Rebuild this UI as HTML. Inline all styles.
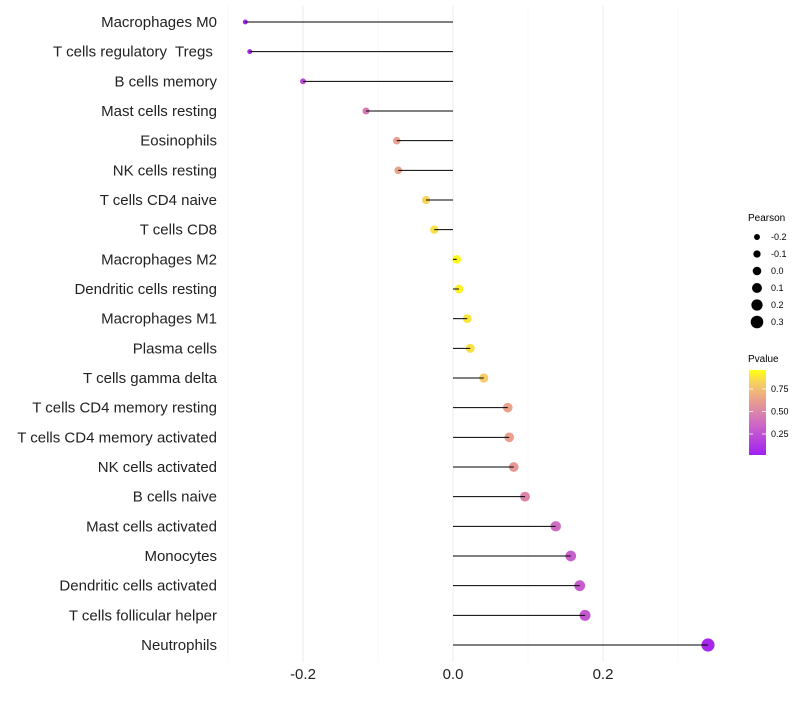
<!DOCTYPE html>
<html><head><meta charset="utf-8"><style>
body{margin:0;background:#fff;font-family:"Liberation Sans",sans-serif}
text{white-space:pre}
</style></head><body>
<svg id="c" width="800" height="700" xmlns="http://www.w3.org/2000/svg">
<defs><linearGradient id="pg" x1="0" y1="1" x2="0" y2="0">
<stop offset="0" stop-color="#a020f0"/><stop offset="0.35" stop-color="#cc66c8"/><stop offset="0.65" stop-color="#eaa08c"/><stop offset="0.85" stop-color="#f6d060"/><stop offset="1" stop-color="#ffff10"/></linearGradient></defs>
<g id="grid"></g><g id="dots"></g><g id="marks"></g><g id="labels"></g>
<g font-size="9" fill="#000">
<text x="748" y="221" font-size="10">Pearson</text>
<g id="sizeleg"></g>
</g>
<g font-size="9">
<text x="748" y="362" font-size="10">Pvalue</text>
<rect x="749" y="370" width="17" height="85" fill="url(#pg)"/>
<g id="cbt"></g>
</g>
</svg>
<script>
const categories=["Macrophages M0","T cells regulatory  Tregs ","B cells memory","Mast cells resting","Eosinophils","NK cells resting","T cells CD4 naive","T cells CD8","Macrophages M2","Dendritic cells resting","Macrophages M1","Plasma cells","T cells gamma delta","T cells CD4 memory resting","T cells CD4 memory activated","NK cells activated","B cells naive","Mast cells activated","Monocytes","Dendritic cells activated","T cells follicular helper","Neutrophils"];
const pearson=[-0.277,-0.271,-0.2,-0.116,-0.075,-0.073,-0.036,-0.025,0.005,0.008,0.019,0.023,0.041,0.073,0.075,0.081,0.096,0.137,0.157,0.169,0.176,0.34];
const pvalues=[0.03,0.04,0.2,0.45,0.65,0.66,0.86,0.9,0.98,0.96,0.92,0.9,0.83,0.66,0.65,0.6,0.5,0.38,0.32,0.3,0.27,0.04];
const xTicks=[-0.2,0.0,0.2];
const xTickLabels=["-0.2","0.0","0.2"];
const sizeLegend=[-0.2,-0.1,0.0,0.1,0.2,0.3];
const sizeLegendLabels=["-0.2","-0.1","0.0","0.1","0.2","0.3"];
const cbTicks=[0.25,0.5,0.75];
const cbTickLabels=["0.25","0.50","0.75"];
const NS="http://www.w3.org/2000/svg";
const x=v=>453+v*750;
const y=i=>22+i*(623/21);
const r=v=>4.3+6.7*v;
const cy=p=>456.5-p*90;
function col(p){const s=[[0,[160,32,240]],[0.35,[204,102,200]],[0.65,[234,160,140]],[0.85,[246,208,96]],[1,[255,255,16]]];
for(let k=1;k<s.length;k++){if(p<=s[k][0]){const t=(p-s[k-1][0])/(s[k][0]-s[k-1][0]);const a=s[k-1][1],b=s[k][1];return`rgb(${a.map((c,j)=>Math.round(c+(b[j]-c)*t)).join(",")})`;}}return"rgb(255,255,16)";}
function el(t,a,p){const e=document.createElementNS(NS,t);for(const k in a)e.setAttribute(k,a[k]);p.appendChild(e);return e;}
const G=document.getElementById("grid"),M=document.getElementById("marks"),D=document.getElementById("dots"),L=document.getElementById("labels");
[-0.3,-0.1,0.1,0.3].forEach(v=>{const l=el("line",{x1:x(v),x2:x(v),y1:5,y2:662,stroke:"#f3f3f3","stroke-width":0.6},G);

});
xTicks.forEach((v,i)=>{const l=el("line",{x1:x(v),x2:x(v),y1:5,y2:662,stroke:"#ebebeb","stroke-width":1},G);


const t=el("text",{x:x(v),y:679,"text-anchor":"middle","font-size":15,fill:"#222"},L);t.textContent=xTickLabels[i];

});
categories.forEach((c,i)=>{const yy=y(i);
const t=el("text",{x:217,y:yy+5,"text-anchor":"end","font-size":15,fill:"#222"},L);t.textContent=c;


const d=el("circle",{cx:x(pearson[i]),cy:yy,r:r(pearson[i]),fill:col(pvalues[i])},D);


const l=el("line",{x1:x(0),x2:x(pearson[i]),y1:yy,y2:yy,stroke:"#000","stroke-width":1},M);

});
const S=document.getElementById("sizeleg");
sizeLegend.forEach((v,i)=>{const yy=237+i*17;
const d=el("circle",{cx:757,cy:yy,r:r(v),fill:"#000"},S);


const t=el("text",{x:771,y:yy+3},S);t.textContent=sizeLegendLabels[i];

});
const C=document.getElementById("cbt");
cbTicks.forEach((v,i)=>{const l=el("line",{x1:749,x2:753,y1:cy(v),y2:cy(v),stroke:"#fff","stroke-width":0.8},C);


const l2=el("line",{x1:762,x2:766,y1:cy(v),y2:cy(v),stroke:"#fff","stroke-width":0.8},C);


const t=el("text",{x:771,y:cy(v)+3},C);t.textContent=cbTickLabels[i];

});
</script>
</body></html>
